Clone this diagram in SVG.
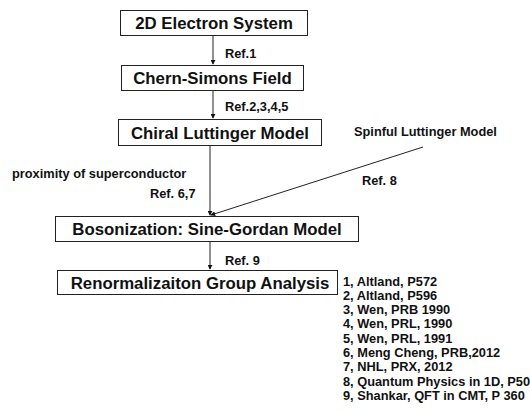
<svg xmlns="http://www.w3.org/2000/svg" width="530" height="412" viewBox="0 0 530 412">
  <style>
    .box { fill: #ffffff; stroke: #222; stroke-width: 1; }
    .title { font-family: "Liberation Sans", Arial, sans-serif; font-weight: bold; font-size: 16.8px; fill: #111; text-anchor: middle; }
    .lbl { font-family: "Liberation Sans", Arial, sans-serif; font-weight: bold; font-size: 12.8px; fill: #111; }
    .edge { stroke: #222; stroke-width: 1; fill: none; marker-end: url(#arr); }
  </style>
  <defs>
    <marker id="arr" viewBox="0 0 6 6" refX="5" refY="3" markerWidth="5" markerHeight="5" orient="auto" markerUnits="userSpaceOnUse">
      <path d="M0,0 L6,3 L0,6 z" fill="#111"/>
    </marker>
  </defs>
  <rect width="530" height="412" fill="#ffffff"/>

  <g id="connectors">
    <line class="edge" x1="213" y1="35" x2="213" y2="64"/>
    <line class="edge" x1="213" y1="90" x2="213" y2="118"/>
    <line class="edge" x1="210" y1="145" x2="210" y2="215"/>
    <line class="edge" x1="423" y1="147" x2="211" y2="215"/>
    <line class="edge" x1="210" y1="241" x2="210" y2="269"/>
    <text class="lbl" x="225" y="57.5">Ref.1</text>
    <text class="lbl" x="225" y="111">Ref.2,3,4,5</text>
    <text class="lbl" x="12" y="177.5">proximity of superconductor</text>
    <text class="lbl" x="150" y="197.5">Ref. 6,7</text>
    <text class="lbl" x="362" y="184.5">Ref. 8</text>
    <text class="lbl" x="225" y="264.5">Ref. 9</text>
  </g>

  <g id="n-electron">
    <rect class="box" x="120.5" y="10.5" width="187" height="25"/>
    <text class="title" x="214" y="29">2D Electron System</text>
  </g>
  <g id="n-chern-simons">
    <rect class="box" x="121.5" y="65.5" width="182" height="25"/>
    <text class="title" x="212.5" y="84">Chern-Simons Field</text>
  </g>
  <g id="n-chiral">
    <rect class="box" x="118.5" y="119.5" width="203" height="26"/>
    <text class="title" x="220" y="138.5">Chiral Luttinger Model</text>
  </g>
  <g id="n-spinful">
    <text class="lbl" x="354" y="136">Spinful Luttinger Model</text>
  </g>
  <g id="n-bosonization">
    <rect class="box" x="55.5" y="216.5" width="303" height="25"/>
    <text class="title" x="207" y="235">Bosonization: Sine-Gordan Model</text>
  </g>
  <g id="n-rg">
    <rect class="box" x="57.5" y="270.5" width="280" height="24"/>
    <text class="title" x="200" y="289">Renormalizaiton Group Analysis</text>
  </g>

  <g id="references">
    <text class="lbl" x="343" y="285.5">1, Altland, P572</text>
    <text class="lbl" x="343" y="299.8">2, Altland, P596</text>
    <text class="lbl" x="343" y="314.1">3, Wen, PRB 1990</text>
    <text class="lbl" x="343" y="328.4">4, Wen, PRL, 1990</text>
    <text class="lbl" x="343" y="342.7">5, Wen, PRL, 1991</text>
    <text class="lbl" x="343" y="357">6, Meng Cheng, PRB,2012</text>
    <text class="lbl" x="343" y="371.3">7, NHL, PRX, 2012</text>
    <text class="lbl" x="343" y="385.6">8, Quantum Physics in 1D, P50</text>
    <text class="lbl" x="343" y="399.9">9, Shankar, QFT in CMT, P 360</text>
  </g>
</svg>
